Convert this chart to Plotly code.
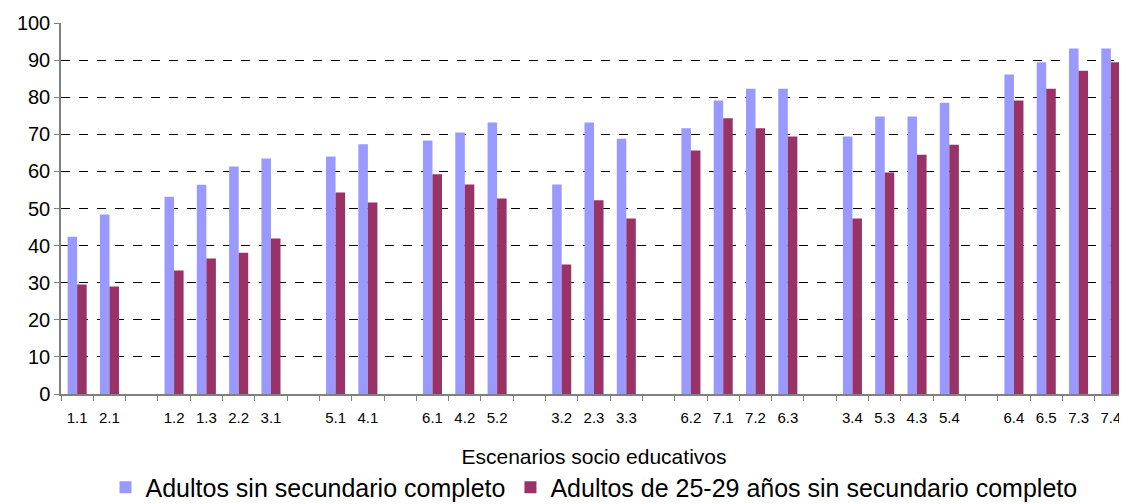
import plotly.graph_objects as go

# Groups of scenarios (gaps between groups in the reference)
group_labels = [
    ["1.1", "2.1"],
    ["1.2", "1.3", "2.2", "3.1"],
    ["5.1", "4.1"],
    ["6.1", "4.2", "5.2"],
    ["3.2", "2.3", "3.3"],
    ["6.2", "7.1", "7.2", "6.3"],
    ["3.4", "5.3", "4.3", "5.4"],
    ["6.4", "6.5", "7.3", "7.4"],
]
adultos = [
    [42.4, 48.4],
    [53.2, 56.4, 61.3, 63.5],
    [64.0, 67.3],
    [68.3, 70.5, 73.2],
    [56.5, 73.2, 68.8],
    [71.6, 79.1, 82.3, 82.3],
    [69.4, 74.8, 74.8, 78.5],
    [86.1, 89.4, 93.1, 93.1],
]
jovenes = [
    [29.5, 29.0],
    [33.3, 36.5, 38.1, 41.9],
    [54.3, 51.6],
    [59.2, 56.5, 52.7],
    [34.9, 52.2, 47.3],
    [65.6, 74.3, 71.6, 69.4],
    [47.3, 59.7, 64.5, 67.2],
    [79.1, 82.3, 87.1, 89.4],
]
series_names = ["Adultos sin secundario completo",
                "Adultos de 25-29 años sin secundario completo"]
x_title = "Escenarios socio educativos"

# Build category axis with blank spacer categories between groups
cats, v1, v2 = [], [], []
for gi, (labs, a, j) in enumerate(zip(group_labels, adultos, jovenes)):
    if gi > 0:
        cats.append(" " * gi)
        v1.append(None)
        v2.append(None)
    cats.extend(labs)
    v1.extend(a)
    v2.extend(j)

font_family = "Liberation Sans, Arial, sans-serif"

fig = go.Figure()
fig.add_trace(go.Bar(x=cats, y=v1, name=series_names[0],
                     marker=dict(color="#9999FF", line=dict(width=0))))
fig.add_trace(go.Bar(x=cats, y=v2, name=series_names[1],
                     marker=dict(color="#993366", line=dict(width=0))))

# the page body has an 8px margin, so the figure is sized to fit the window
fig.update_layout(
    width=1119, height=496,
    margin=dict(l=53, r=0, t=15, b=110, autoexpand=False),
    paper_bgcolor="white", plot_bgcolor="white",
    barmode="group", bargap=0.41, bargroupgap=0,
    font=dict(family=font_family, color="black"),
    showlegend=True,
    legend=dict(orientation="h", x=0.5, xanchor="center",
                y=-0.252, yanchor="middle",
                font=dict(size=25), itemwidth=30,
                traceorder="normal"),
)
fig.update_xaxes(
    type="category", categoryorder="array", categoryarray=cats,
    tickson="boundaries", ticks="outside", ticklen=5, tickcolor="#808080",
    showline=True, linecolor="#808080", linewidth=1.5,
    showgrid=False, tickfont=dict(size=15), tickangle=0, automargin=False,
    ticklabelstandoff=9,
    title=dict(text=x_title, font=dict(size=21), standoff=25),
)
fig.update_yaxes(
    range=[0, 100], dtick=10, ticks="outside", ticklen=5, tickcolor="#808080",
    showline=True, linecolor="#808080", linewidth=1.5, automargin=False,
    showgrid=True, gridcolor="black", gridwidth=1, griddash="dash",
    tickfont=dict(size=20), zeroline=False,
)

fig.write_html("out.html")
